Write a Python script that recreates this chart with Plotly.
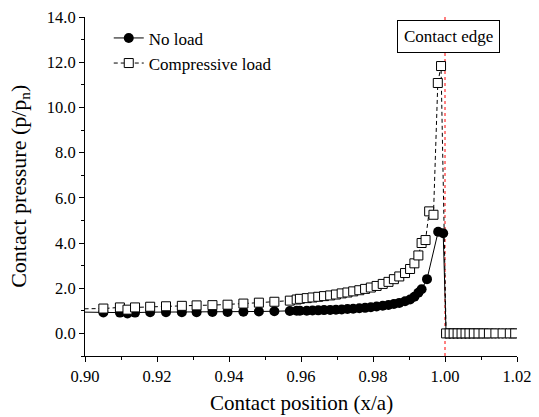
import plotly.graph_objects as go

# ---- data ----
comp_x = [0.8960, 0.9051, 0.9097, 0.9118, 0.9139, 0.9181, 0.9225, 0.9269, 0.9310, 0.9354,
          0.9396, 0.9440, 0.9483, 0.9526, 0.9569, 0.9588,
          0.9597, 0.9616, 0.9632, 0.9648, 0.9664, 0.9681, 0.9697, 0.9713, 0.9729, 0.9745,
          0.9762, 0.9778, 0.9794, 0.9810, 0.9827, 0.9843, 0.9858, 0.9873, 0.9889, 0.9903,
          0.9915, 0.9926, 0.9935, 0.9946, 0.9956, 0.9968, 0.9980, 0.9989,
          1.0003, 1.0013, 1.0024, 1.0035, 1.0046, 1.0057, 1.0068, 1.0080, 1.0093, 1.0107,
          1.0122, 1.0140, 1.0160, 1.0180, 1.0195]
comp_y = [1.08, 1.10, 1.15, 1.05, 1.15, 1.18, 1.20, 1.22, 1.24, 1.25,
          1.27, 1.32, 1.36, 1.40, 1.45, 1.50,
          1.53, 1.56, 1.59, 1.62, 1.65, 1.68, 1.72, 1.77, 1.81, 1.86,
          1.91, 1.97, 2.03, 2.10, 2.19, 2.28, 2.40, 2.52, 2.67, 2.85,
          3.10, 3.45, 4.00, 4.13, 5.40, 5.25, 11.08, 11.83,
          0, 0, 0, 0, 0, 0, 0, 0, 0, 0,
          0, 0, 0, 0, 0]

noload_x = [0.8960, 0.9051, 0.9097, 0.9118, 0.9139, 0.9181, 0.9225, 0.9269, 0.9310, 0.9354,
            0.9396, 0.9440, 0.9483, 0.9526, 0.9569, 0.9588,
            0.9597, 0.9616, 0.9632, 0.9648, 0.9664, 0.9681, 0.9697, 0.9713, 0.9729, 0.9745,
            0.9762, 0.9778, 0.9794, 0.9810, 0.9827, 0.9843, 0.9858, 0.9873, 0.9889, 0.9903,
            0.9915, 0.9926, 0.9935, 0.9950, 0.9981, 0.9995,
            1.0003, 1.0013, 1.0024, 1.0035, 1.0046, 1.0057, 1.0068, 1.0080, 1.0093, 1.0107,
            1.0122, 1.0140, 1.0160, 1.0180, 1.0195]
noload_y = [0.95, 0.93, 0.92, 0.88, 0.92, 0.94, 0.94, 0.94, 0.94, 0.95,
            0.95, 0.96, 0.97, 0.98, 0.99, 1.00,
            1.00, 1.00, 1.01, 1.02, 1.03, 1.04, 1.05, 1.06, 1.08, 1.09,
            1.11, 1.13, 1.16, 1.19, 1.22, 1.26, 1.30, 1.35, 1.42, 1.50,
            1.62, 1.80, 1.95, 2.40, 4.50, 4.43,
            0, 0, 0, 0, 0, 0, 0, 0, 0, 0,
            0, 0, 0, 0, 0]

x_tickvals = [0.90, 0.92, 0.94, 0.96, 0.98, 1.00, 1.02]
y_tickvals = [0, 2, 4, 6, 8, 10, 12, 14]
edge_x = 1.0

FONT = "Liberation Serif"

fig = go.Figure()
fig.add_trace(go.Scatter(
    x=noload_x, y=noload_y, mode="lines+markers", name="No load",
    line=dict(color="black", width=1),
    marker=dict(symbol="circle", size=10, color="black"),
))
fig.add_trace(go.Scatter(
    x=comp_x, y=comp_y, mode="lines+markers", name="Compressive load",
    line=dict(color="black", width=1, dash="4px,3px"),
    marker=dict(symbol="square", size=9, color="white", line=dict(color="black", width=1)),
))

fig.add_shape(type="line", x0=edge_x, x1=edge_x, xref="x", y0=0, y1=1, yref="paper",
              line=dict(color="red", width=1, dash="3px,3px"), layer="below")

fig.add_annotation(x=1.0011, y=13.12, xref="x", yref="y", text="Contact edge",
                   showarrow=False, font=dict(family=FONT, size=17, color="black"),
                   bordercolor="black", borderwidth=1, borderpad=6, bgcolor="white")

fig.add_annotation(x=-0.152, y=0.5, xref="paper", yref="paper",
                   text="Contact pressure (p/p<sub>n</sub>)", textangle=-90,
                   showarrow=False, xanchor="center", yanchor="middle",
                   font=dict(family=FONT, size=22, color="black"))

fig.add_annotation(x=0.5, y=0, xref="paper", yref="paper", yshift=-47,
                   text="Contact position (x/a)", showarrow=False,
                   xanchor="center", yanchor="middle",
                   font=dict(family=FONT, size=21, color="black"))

axis_common = dict(showline=True, linecolor="black", linewidth=1, showgrid=False,
                   zeroline=False, tickcolor="black", automargin=False,
                   tickfont=dict(family=FONT, size=16.5, color="black"))

fig.update_layout(
    width=539, height=417,
    margin=dict(l=85, r=22, t=17, b=61, autoexpand=False),
    paper_bgcolor="white", plot_bgcolor="white",
    font=dict(family=FONT, color="black"),
    xaxis=dict(range=[0.9, 1.02], tickvals=x_tickvals, tickformat=".2f",
               ticks="outside", ticklen=5,
               minor=dict(ticks="outside", dtick=0.01, ticklen=3, tickcolor="black"),
               **axis_common),
    yaxis=dict(range=[-1, 14], tickvals=y_tickvals, tickformat=".1f",
               ticks="outside", ticklen=5,
               minor=dict(ticks="outside", dtick=1, ticklen=3, tickcolor="black"),
               **axis_common),
    xaxis2=dict(range=[0.9, 1.02], overlaying="x", side="top", anchor="y",
                tickvals=x_tickvals, ticks="inside", ticklen=4, showticklabels=False,
                minor=dict(ticks="inside", dtick=0.01, ticklen=3, tickcolor="black"),
                showline=True, linecolor="black", showgrid=False, zeroline=False,
                tickcolor="black", automargin=False),
    yaxis2=dict(range=[-1, 14], overlaying="y", side="right", anchor="x",
                tickvals=y_tickvals, ticks="inside", ticklen=4, showticklabels=False,
                minor=dict(ticks="inside", dtick=1, ticklen=3, tickcolor="black"),
                showline=True, linecolor="black", showgrid=False, zeroline=False,
                tickcolor="black", automargin=False),
    legend=dict(x=0.055, y=0.99, xanchor="left", yanchor="top", bgcolor="rgba(0,0,0,0)",
                font=dict(family=FONT, size=17, color="black"), tracegroupgap=0,
                itemwidth=30),
    showlegend=True,
)

fig.write_html("out.html")
